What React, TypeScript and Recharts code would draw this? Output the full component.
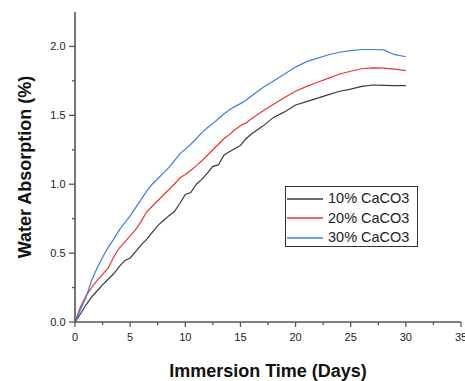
import React from "react";
import { LineChart, Line, XAxis, YAxis, Legend } from "recharts";

const days = [
  0, 0.5, 1, 1.5, 2, 2.5, 3, 3.5, 4, 4.5, 5, 5.5, 6, 6.5, 7, 7.5, 8, 8.5, 9, 9.5,
  10, 10.5, 11, 11.5, 12, 12.5, 13, 13.5, 14, 14.5, 15, 15.5, 16, 17, 18, 19, 20,
  21, 22, 23, 24, 25, 26, 27, 28, 29, 30,
];

const caco3_10 = [
  0, 0.06, 0.125, 0.18, 0.225, 0.27, 0.31, 0.35, 0.4, 0.445, 0.465, 0.51, 0.56, 0.6,
  0.65, 0.7, 0.735, 0.77, 0.8, 0.86, 0.925, 0.94, 1.0, 1.035, 1.08, 1.13, 1.14, 1.21,
  1.235, 1.26, 1.28, 1.33, 1.365, 1.42, 1.485, 1.525, 1.575, 1.6, 1.625, 1.65, 1.675,
  1.69, 1.71, 1.72, 1.718, 1.715, 1.715,
];

const caco3_20 = [
  0, 0.11, 0.19, 0.25, 0.3, 0.345, 0.39, 0.47, 0.535, 0.58, 0.625, 0.67, 0.73, 0.8,
  0.84, 0.88, 0.92, 0.96, 1.0, 1.045, 1.07, 1.1, 1.135, 1.17, 1.21, 1.25, 1.29, 1.33,
  1.36, 1.395, 1.425, 1.445, 1.475, 1.53, 1.58, 1.63, 1.675, 1.71, 1.74, 1.77, 1.8,
  1.82, 1.838, 1.844, 1.842, 1.835, 1.825,
];

const caco3_30 = [
  0, 0.09, 0.18, 0.3, 0.39, 0.47, 0.54, 0.6, 0.665, 0.72, 0.77, 0.83, 0.89, 0.95, 1.0,
  1.04, 1.08, 1.12, 1.17, 1.22, 1.255, 1.29, 1.33, 1.375, 1.41, 1.44, 1.475, 1.51,
  1.54, 1.565, 1.585, 1.61, 1.64, 1.7, 1.75, 1.8, 1.85, 1.89, 1.915, 1.94, 1.958,
  1.97, 1.978, 1.978, 1.975, 1.94, 1.925,
];

const seriesNames = ["10% CaCO3", "20% CaCO3", "30% CaCO3"];
const xTicks = [0, 2.5, 5, 7.5, 10, 12.5, 15, 17.5, 20, 22.5, 25, 27.5, 30, 32.5, 35];
const yTicks = [0, 0.25, 0.5, 0.75, 1, 1.25, 1.5, 1.75, 2];

const data = days.map((d, i) => ({
  day: d,
  s10: caco3_10[i],
  s20: caco3_20[i],
  s30: caco3_30[i],
}));

const FONT = '"Liberation Sans", Arial, Helvetica, sans-serif';
const AXIS = "#555";
const X_MARGIN = 10;
const Y_MARGIN = 10;

const XTick = (props: any) => {
  const { x, y, payload } = props;
  const major = payload.value % 5 === 0;
  const axisY = y - X_MARGIN;
  return (
    <g>
      <line x1={x} x2={x} y1={axisY} y2={axisY + (major ? 5 : 3)} stroke={AXIS} strokeWidth={1.3} />
      {major && (
        <text x={x} y={axisY + 19} textAnchor="middle" fontSize={11} fontFamily={FONT} fill="#222">
          {payload.value}
        </text>
      )}
    </g>
  );
};

const YTick = (props: any) => {
  const { x, y, payload } = props;
  const major = Math.abs((payload.value * 2) % 1) < 1e-9;
  const axisX = x + Y_MARGIN;
  return (
    <g>
      <line x1={axisX} x2={axisX - (major ? 6 : 3)} y1={y} y2={y} stroke={AXIS} strokeWidth={1.3} />
      {major && (
        <text x={axisX - 9.5} y={y + 4} textAnchor="end" fontSize={11} fontFamily={FONT} fill="#222">
          {payload.value.toFixed(1)}
        </text>
      )}
    </g>
  );
};

const LegendBox = (props: any) => {
  const { payload } = props;
  return (
    <div
      style={{
        width: 133,
        height: 61,
        boxSizing: "border-box",
        border: "1px solid #333",
        background: "#fff",
        paddingTop: 2,
        fontFamily: FONT,
      }}
    >
      {(payload || []).map((p: any) => (
        <div key={p.value} style={{ display: "flex", alignItems: "center", height: 19.5 }}>
          <svg width={42} height={4} style={{ display: "block" }}>
            <line x1={1} x2={37} y1={2} y2={2} stroke={p.color} strokeWidth={1.5} />
          </svg>
          <span style={{ fontSize: 14.5, color: "#222", lineHeight: "19px" }}>{p.value}</span>
        </div>
      ))}
    </div>
  );
};

const colors = ["#3a3a3a", "#ee3434", "#3b7ee8"];

export default function App() {
  return (
    <div style={{ position: "absolute", left: 0, top: 0, background: "#fff" }}>
      <LineChart
        width={465}
        height={381}
        data={data}
        margin={{ top: 12, right: 4, bottom: 0, left: 0 }}
      >
        <XAxis
          dataKey="day"
          type="number"
          domain={[0, 35]}
          ticks={xTicks}
          interval={0}
          tick={<XTick />}
          tickLine={false}
          tickSize={0}
          tickMargin={X_MARGIN}
          axisLine={{ stroke: AXIS, strokeWidth: 1.6 }}
          height={59}
          allowDataOverflow
          label={{
            content: (p: any) => {
              const vb = p.viewBox;
              return (
                <text
                  x={vb.x + vb.width / 2}
                  y={vb.y + 55}
                  textAnchor="middle"
                  fontSize={18}
                  fontWeight="bold"
                  fontFamily={FONT}
                  fill="#111"
                >
                  Immersion Time (Days)
                </text>
              );
            },
          }}
        />
        <XAxis
          xAxisId="top"
          orientation="top"
          type="number"
          domain={[0, 35]}
          tick={false}
          tickLine={false}
          height={0}
          axisLine={{ stroke: AXIS, strokeWidth: 1.6 }}
        />
        <YAxis
          type="number"
          domain={[0, 2.25]}
          ticks={yTicks}
          interval={0}
          tick={<YTick />}
          tickLine={false}
          tickSize={0}
          tickMargin={Y_MARGIN}
          axisLine={{ stroke: AXIS, strokeWidth: 1.6 }}
          width={75}
          allowDataOverflow
          label={{
            content: (p: any) => {
              const vb = p.viewBox;
              const cx = vb.x + 31;
              const cy = vb.y + vb.height / 2;
              return (
                <text
                  x={cx}
                  y={cy}
                  textAnchor="middle"
                  fontSize={18}
                  fontWeight="bold"
                  fontFamily={FONT}
                  fill="#111"
                  transform={`rotate(-90 ${cx} ${cy})`}
                >
                  Water Absorption (%)
                </text>
              );
            },
          }}
        />
        <YAxis
          yAxisId="right"
          orientation="right"
          type="number"
          domain={[0, 2.25]}
          tick={false}
          tickLine={false}
          width={0}
          axisLine={{ stroke: AXIS, strokeWidth: 1.6 }}
        />
        <Legend
          layout="vertical"
          align="center"
          verticalAlign="middle"
          content={<LegendBox />}
          wrapperStyle={{ position: "absolute", left: 285, top: 186, width: 133, height: 61 }}
        />
        <Line
          type="linear"
          dataKey="s10"
          name={seriesNames[0]}
          stroke={colors[0]}
          strokeWidth={1.2}
          dot={false}
          isAnimationActive={false}
        />
        <Line
          type="linear"
          dataKey="s20"
          name={seriesNames[1]}
          stroke={colors[1]}
          strokeWidth={1.2}
          dot={false}
          isAnimationActive={false}
        />
        <Line
          type="linear"
          dataKey="s30"
          name={seriesNames[2]}
          stroke={colors[2]}
          strokeWidth={1.2}
          dot={false}
          isAnimationActive={false}
        />
      </LineChart>
    </div>
  );
}
